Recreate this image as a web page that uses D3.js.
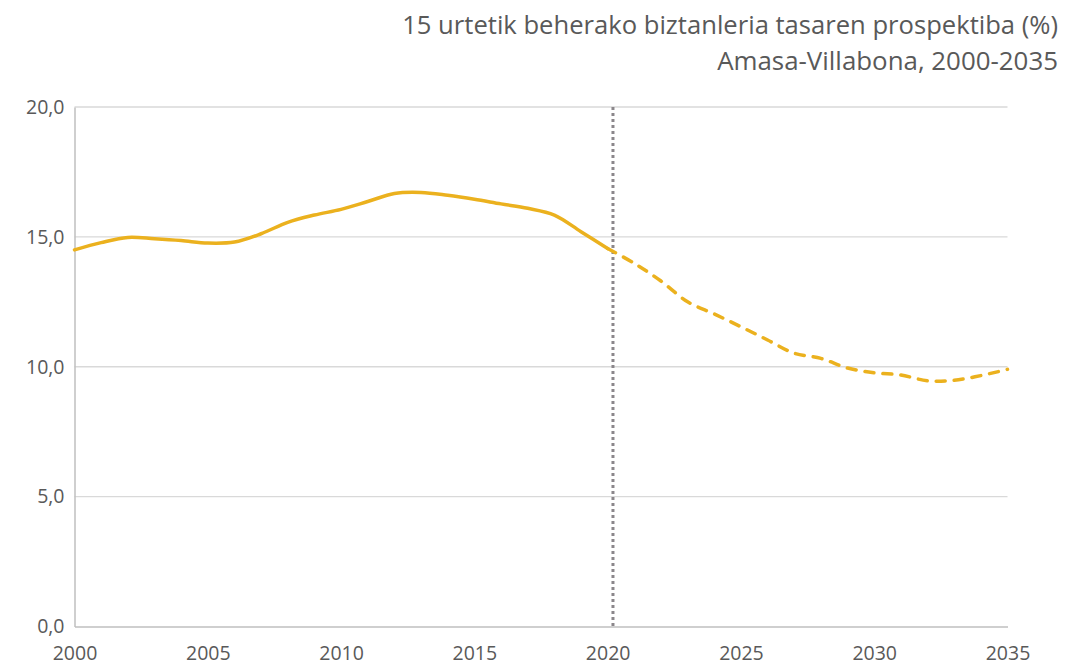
<!DOCTYPE html>
<html>
<head>
<meta charset="utf-8">
<script src="https://cdn.jsdelivr.net/npm/d3@7"></script>
<style>
  html, body { margin: 0; padding: 0; background: #ffffff; }
  svg { display: block; }
  text { font-family: "Open Sans", "Noto Sans", sans-serif; fill: #595959; }
</style>
</head>
<body>
<svg id="chart" width="1065" height="669"></svg>
<script>
// ---- data ----
const titleLines = ["15 urtetik beherako biztanleria tasaren prospektiba (%)", "Amasa-Villabona, 2000-2035"];
const observedYears = [2000,2001,2002,2003,2004,2005,2006,2007,2008,2009,2010,2011,2012,2013,2014,2015,2016,2017,2018,2019,2020];
const observedValues = [14.5,14.78,14.98,14.93,14.86,14.76,14.8,15.12,15.56,15.84,16.06,16.36,16.67,16.71,16.6,16.45,16.27,16.1,15.84,15.2,14.55];
const projectedYears = [2020,2021,2022,2023,2024,2025,2026,2027,2028,2029,2030,2031,2032,2033,2034,2035];
const projectedValues = [14.55,13.98,13.3,12.5,12.03,11.54,11.03,10.52,10.32,9.95,9.77,9.68,9.46,9.48,9.66,9.9];
const yTicks = [0,5,10,15,20];
const xTicks = [2000,2005,2010,2015,2020,2025,2030,2035];
const dividerYear = 2020.2;

// ---- layout ----
(function () {
const svg = d3.select("#chart");
const mLeft = 74.5, mRight = 1007.5, mTop = 107, mBottom = 626.5;
const x = d3.scaleLinear().domain([2000, 2035]).range([mLeft, mRight]);
const y = d3.scaleLinear().domain([0, 20]).range([mBottom, mTop]);
const fmt = v => d3.format(".1f")(v).replace(".", ",");
const lineColor = "#EBB11E";
const tickFont = "19.5px";

// gridlines
svg.append("g")
  .selectAll("line").data(yTicks.filter(t => t > 0)).join("line")
  .attr("x1", mLeft).attr("x2", mRight)
  .attr("y1", d => y(d)).attr("y2", d => y(d))
  .attr("stroke", "#d9d9d9").attr("stroke-width", 1.3);

// y axis
const yAxis = svg.append("g").attr("transform", `translate(${mLeft},0)`)
  .call(d3.axisLeft(y).tickValues(yTicks).tickFormat(fmt).tickSize(0).tickPadding(10));
yAxis.select(".domain").attr("stroke", "#bfbfbf").attr("stroke-width", 1.5);
yAxis.attr("font-size", null).attr("font-family", null);
yAxis.selectAll("text").style("font-size", tickFont).attr("fill", "#595959");

// x axis
const xAxis = svg.append("g").attr("transform", `translate(0,${mBottom})`)
  .call(d3.axisBottom(x).tickValues(xTicks).tickFormat(d3.format("d")).tickSize(0).tickPadding(20));
xAxis.select(".domain").attr("stroke", "#bfbfbf").attr("stroke-width", 1.5);
xAxis.attr("font-size", null).attr("font-family", null);
xAxis.selectAll("text").style("font-size", tickFont).attr("fill", "#595959");

// divider
svg.append("line")
  .attr("x1", x(dividerYear)).attr("x2", x(dividerYear))
  .attr("y1", y(20)).attr("y2", y(0))
  .attr("stroke", "#8b878b").attr("stroke-width", 3)
  .attr("stroke-dasharray", "3,3");

// lines
const line = d3.line().x(d => x(d[0])).y(d => y(d[1])).curve(d3.curveCatmullRom.alpha(0.5));
svg.append("path")
  .datum(observedYears.map((yr, i) => [yr, observedValues[i]]))
  .attr("d", line).attr("fill", "none")
  .attr("stroke", lineColor).attr("stroke-width", 3.5).attr("stroke-linecap", "round");
svg.append("path")
  .datum(projectedYears.map((yr, i) => [yr, projectedValues[i]]))
  .attr("d", line).attr("fill", "none")
  .attr("stroke", lineColor).attr("stroke-width", 3.5).attr("stroke-linecap", "round")
  .attr("stroke-dasharray", "9,9");

// title
const titleWidths = [656, 341];
titleLines.forEach((t, i) => {
  const el = svg.append("text")
    .attr("x", 1058).attr("y", 34 + i * 36)
    .attr("text-anchor", "end")
    .style("font-size", "22px")
    .text(t);
  const w = el.node().getComputedTextLength();
  el.style("font-size", (22 * titleWidths[i] / w) + "px");
});
})();
</script>
</body>
</html>
